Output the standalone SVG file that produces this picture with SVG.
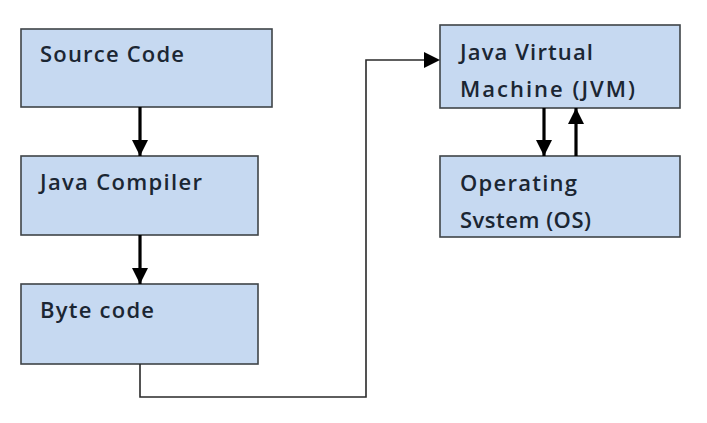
<svg xmlns="http://www.w3.org/2000/svg" width="707" height="423" viewBox="0 0 707 423">
<style>
.box{fill:#c6d9f1;stroke:#3f4448;stroke-width:1.6}
.t{font-family:"Open Sans","Liberation Sans",Arial,sans-serif;font-size:22px;font-weight:600;fill:#1b2633}
.thick{stroke:#000;stroke-width:3.2;fill:none}
.thin{stroke:#2a2a2a;stroke-width:1.6;fill:none}
</style>
<defs>
<marker id="ah" markerUnits="userSpaceOnUse" markerWidth="18" markerHeight="16" refX="16" refY="8" orient="auto">
<path d="M0,0 L16,8 L0,16 Z" fill="#000"/>
</marker>
</defs>
<rect width="707" height="423" fill="#fff"/>
<g id="source-code"><rect class="box" x="21" y="29" width="251" height="78"/><text class="t" x="40" y="62" textLength="144" lengthAdjust="spacing">Source Code</text></g>
<g id="java-compiler"><rect class="box" x="21" y="156" width="237" height="79"/><text class="t" x="40" y="190" textLength="162" lengthAdjust="spacing">Java Compiler</text></g>
<g id="byte-code"><rect class="box" x="21" y="284" width="237" height="80"/><text class="t" x="40" y="318" textLength="114" lengthAdjust="spacing">Byte code</text></g>
<g id="jvm"><rect class="box" x="440" y="25" width="240" height="83"/><text class="t" x="460" y="60" textLength="133" lengthAdjust="spacing">Java Virtual</text><text class="t" x="460" y="97" textLength="175" lengthAdjust="spacing">Machine (JVM)</text></g>
<g id="os"><rect class="box" x="440" y="156" width="240" height="81"/><text class="t" x="460" y="191" textLength="117" lengthAdjust="spacing">Operating</text><text class="t" x="460" y="228" textLength="131" lengthAdjust="spacing">Svstem (OS)</text></g>
<g id="connectors">
<line class="thick" x1="140" y1="107" x2="140" y2="156" marker-end="url(#ah)"/>
<line class="thick" x1="140" y1="235" x2="140" y2="284" marker-end="url(#ah)"/>
<polyline class="thin" points="140,364 140,397 366,397 366,60 426,60"/>
<path d="M424,52 L440,60 L424,68 Z" fill="#000"/>
<line class="thick" x1="544" y1="108" x2="544" y2="156" marker-end="url(#ah)"/>
<line class="thick" x1="576" y1="156" x2="576" y2="108" marker-end="url(#ah)"/>
</g>
</svg>
